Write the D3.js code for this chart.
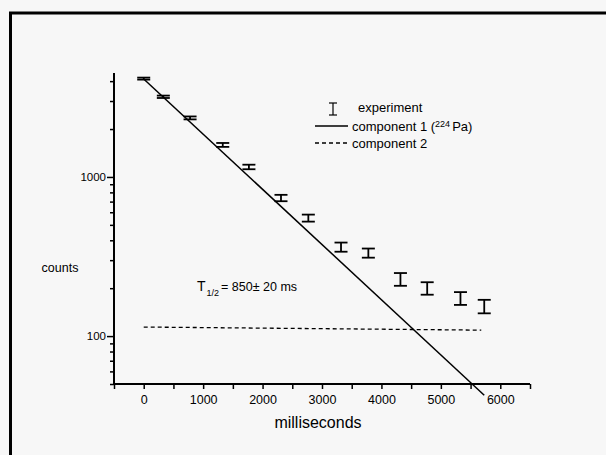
<!DOCTYPE html>
<html>
<head>
<meta charset="utf-8">
<script src="https://cdn.jsdelivr.net/npm/d3@7.9.0/dist/d3.min.js"></script>
<style>
  body { margin: 0; background: #f7f7f7; }
  svg { display: block; font-family: "Liberation Sans", Arial, sans-serif; }
</style>
</head>
<body>
<svg id="chart" width="606" height="455"></svg>
<script>
// measured points (time in ms, counts, error)
const times = [0, 330, 780, 1330, 1770, 2310, 2770, 3320, 3780, 4320, 4770, 5330, 5730];
const counts = [4150, 3190, 2350, 1590, 1156, 738, 552, 363, 333, 228, 200, 173, 154];
const errors = [60, 55, 50, 45, 38, 34, 28, 24, 22, 21, 18, 16, 15];

// fitted components, end points only (straight on a log axis)
const comp1 = [{ t: 0, c: 4130 }, { t: 5730, c: 42.5 }];
const comp2 = [{ t: 0, c: 114 }, { t: 5680, c: 109 }];

const xTicks = [0, 1000, 2000, 3000, 4000, 5000, 6000];
const xMinorTicks = [-500, 500, 1500, 2500, 3500, 4500, 5500, 6500];
const yLabelTicks = [100, 1000];

const svg = d3.select('#chart');

let x = d3.scaleLinear().domain([-500, 6500]).range([114, 530]);
let y = d3.scaleLog().domain([50, 4500]).range([384, 73]);

// page frame
svg.append('rect')
    .attr('x', 10.5).attr('y', 13)
    .attr('width', 620).attr('height', 460)
    .attr('fill', 'none')
    .attr('stroke', '#000')
    .attr('stroke-width', 3);

// y axis: every 1..9 step of each decade, labels only at 100 and 1000
let yMinor = [];
[10, 100, 1000].forEach(d => {
    for (let k = 1; k < 10; k++) {
        let v = d * k;
        if (v >= 50 && v <= 4500) yMinor.push(v);
    }
});

let yAxis = d3.axisLeft(y)
    .tickValues(yMinor)
    .tickSize(4)
    .tickFormat(d => yLabelTicks.includes(d) ? d : '');

let gy = svg.append('g')
    .attr('transform', `translate(${x.range()[0]},0)`)
    .call(yAxis)
    .attr('font-family', null)
    .attr('font-size', 11.5);
gy.select('.domain').attr('stroke-width', 2).attr('d', `M0,${y.range()[0]}V${y.range()[1]}`);
gy.selectAll('.tick line').attr('stroke-width', 1.5)
    .attr('x2', d => yLabelTicks.includes(d) ? -7 : -4);
gy.selectAll('.tick text').attr('x', -8).attr('fill', '#000');

// x axis
let xAxis = d3.axisBottom(x)
    .tickValues(xTicks.concat(xMinorTicks))
    .tickSize(5)
    .tickPadding(6)
    .tickFormat(d => xTicks.includes(d) ? d : '');

let gx = svg.append('g')
    .attr('transform', `translate(0,${y.range()[0]})`)
    .call(xAxis)
    .attr('font-family', null)
    .attr('font-size', 12.5);
gx.select('.domain').attr('stroke-width', 2).attr('d', `M${x.range()[0]},0H${x.range()[1]}`);
gx.selectAll('.tick line').attr('stroke-width', 1.5);
gx.selectAll('.tick text').attr('fill', '#000');

// axis titles
svg.append('text')
    .attr('x', 318).attr('y', 428)
    .attr('text-anchor', 'middle')
    .attr('font-size', 16)
    .text('milliseconds');

svg.append('text')
    .attr('x', 60).attr('y', 272)
    .attr('text-anchor', 'middle')
    .attr('font-size', 12.5)
    .text('counts');

// component lines
let line = d3.line().x(d => x(d.t)).y(d => y(d.c));

svg.append('path')
    .datum(comp1)
    .attr('d', line)
    .attr('fill', 'none')
    .attr('stroke', '#000')
    .attr('stroke-width', 1.5);

svg.append('path')
    .datum(comp2)
    .attr('d', line)
    .attr('fill', 'none')
    .attr('stroke', '#000')
    .attr('stroke-width', 1.3)
    .attr('stroke-dasharray', '4,3');

// error bars
let points = times.map((t, i) => ({ t: t, c: counts[i], e: errors[i] }));
let bars = svg.append('g')
    .attr('stroke', '#000')
    .attr('stroke-width', 1.8)
    .selectAll('g')
    .data(points)
    .enter()
    .append('g');

bars.append('line')
    .attr('x1', d => x(d.t)).attr('x2', d => x(d.t))
    .attr('y1', d => y(d.c + d.e)).attr('y2', d => y(d.c - d.e));
bars.append('line')
    .attr('x1', d => x(d.t) - 6.5).attr('x2', d => x(d.t) + 6.5)
    .attr('y1', d => y(d.c + d.e)).attr('y2', d => y(d.c + d.e));
bars.append('line')
    .attr('x1', d => x(d.t) - 6.5).attr('x2', d => x(d.t) + 6.5)
    .attr('y1', d => y(d.c - d.e)).attr('y2', d => y(d.c - d.e));

// legend
let legend = svg.append('g').attr('font-size', 13);
let sym = legend.append('g').attr('stroke', '#000').attr('stroke-width', 1.2);
sym.append('line').attr('x1', 333).attr('x2', 333).attr('y1', 103).attr('y2', 115);
sym.append('line').attr('x1', 329).attr('x2', 337).attr('y1', 103).attr('y2', 103);
sym.append('line').attr('x1', 329).attr('x2', 337).attr('y1', 115).attr('y2', 115);
legend.append('text').attr('x', 358).attr('y', 112).text('experiment');

legend.append('line')
    .attr('x1', 315).attr('x2', 348).attr('y1', 126).attr('y2', 126)
    .attr('stroke', '#000').attr('stroke-width', 1.3);
let t1 = legend.append('text').attr('x', 352).attr('y', 131);
t1.append('tspan').text('component 1 (');
t1.append('tspan').attr('font-size', 9).attr('dy', -4).text('224');
t1.append('tspan').attr('dy', 4).attr('dx', 2).text('Pa)');

legend.append('line')
    .attr('x1', 315).attr('x2', 349).attr('y1', 143).attr('y2', 143)
    .attr('stroke', '#000').attr('stroke-width', 1.3)
    .attr('stroke-dasharray', '4,3');
legend.append('text').attr('x', 352).attr('y', 148).text('component 2');

// half-life annotation
let ann = svg.append('text').attr('x', 197).attr('y', 291).attr('font-size', 12.5);
ann.append('tspan').attr('font-size', 14).text('T');
ann.append('tspan').attr('font-size', 9).attr('dy', 5).attr('dx', 1).text('1/2');
ann.append('tspan').attr('dy', -5).attr('dx', 2).text('= 850± 20 ms');
</script>
</body>
</html>
